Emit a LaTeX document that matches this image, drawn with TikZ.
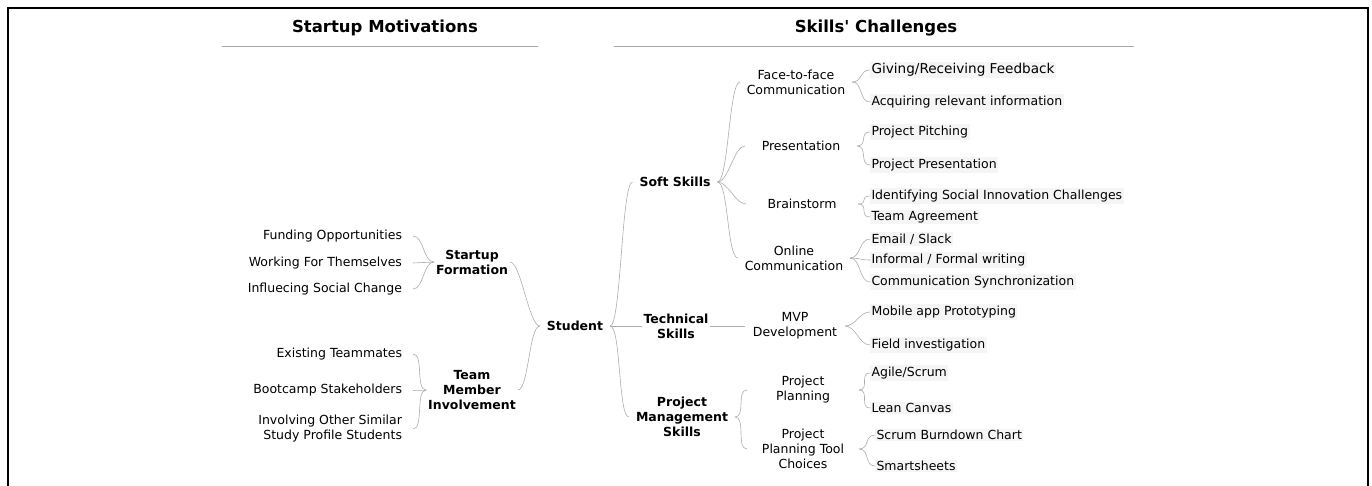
\documentclass[tikz,border=0pt]{standalone}
\usepackage{fontspec}
\setmainfont{DejaVu Sans}[Ligatures=TeXOff]
\usetikzlibrary{positioning}

\begin{document}
\begin{tikzpicture}[
  x=1pt, y=-1pt,
  heading/.style={font=\fontsize{16.5}{19}\selectfont\bfseries, inner sep=0pt},
  rule/.style={draw=gray!70, line width=0.7pt},
  topic/.style={font=\fontsize{12.5}{15}\selectfont\bfseries, align=center,
                inner sep=1pt, outer sep=6pt},
  reason/.style={font=\fontsize{12.5}{15}\selectfont, align=right, anchor=east,
                 inner sep=1pt, outer sep=10pt},
  branch/.style={font=\fontsize{12.5}{15}\selectfont, align=center,
                 minimum width=112pt, inner sep=1pt, outer sep=0pt},
  leaf/.style={font=\fontsize{12.5}{15}\selectfont, anchor=west, fill=black!4,
               inner sep=1.5pt, outer sep=0pt},
  link/.style={draw=gray!65, line width=0.6pt},
  brace/.style={link, out=0, in=180, distance=11pt}
]
  \useasboundingbox (0,0) rectangle (1372,486);
  \draw[line width=2.4pt] (8,486) -- (8,8) -- (1368,8) -- (1368,486);

  \node[heading] (motiv) at (385,28) {Startup Motivations};
  \node[heading] (chall) at (876,28) {Skills' Challenges};
  \draw[rule] (222,46) -- (538,46);
  \draw[rule] (614,46) -- (1134,46);

  % motivations
  \node[reason] (fund)  at (413,236) {Funding Opportunities};
  \node[reason] (work)  at (413,263) {Working For Themselves};
  \node[reason] (infl)  at (413,289) {Influecing Social Change};
  \node[reason] (exist) at (413,354) {Existing Teammates};
  \node[reason] (boot)  at (413,390) {Bootcamp Stakeholders};
  \node[reason] (invol) at (413,429) {Involving Other Similar\\Study Profile Students};

  \node[topic, outer sep=1pt] (form) at (472,262) {Startup\\Formation};
  \node[topic, outer sep=1pt] (team) at (472,390) {Team\\Member\\Involvement};
  \node[topic] (student) at (575,326) {Student};

  % skills
  \node[topic] (soft) at (675,182) {Soft Skills};
  \node[topic, outer sep=1pt] (tech) at (676,326) {Technical\\Skills};
  \node[topic] (pm) at (682,417) {Project\\Management\\Skills};

  \node[branch] (f2f)    at (796,82)  {Face-to-face\\Communication};
  \node[branch] (pres)   at (801,146) {Presentation};
  \node[branch] (brain)  at (802,204) {Brainstorm};
  \node[branch] (online) at (794,258) {Online\\Communication};
  \node[branch, minimum width=100pt] (mvp) at (795,326) {MVP\\Development};
  \node[branch] (plan)   at (803,390) {Project\\Planning};
  \node[branch] (tools)  at (803,449) {Project\\Planning Tool\\Choices};

  \node[leaf, font=\fontsize{13.6}{16}\selectfont] (feed) at (870,70) {Giving/Receiving Feedback};
  \node[leaf] (acq)    at (870,102) {Acquiring relevant information};
  \node[leaf] (pitch)  at (870,132) {Project Pitching};
  \node[leaf] (ppres)  at (870,165) {Project Presentation};
  \node[leaf] (ident)  at (870,196) {Identifying Social Innovation Challenges};
  \node[leaf] (agree)  at (870,217) {Team Agreement};
  \node[leaf] (email)  at (870,239) {Email / Slack};
  \node[leaf] (writ)   at (870,260) {Informal / Formal writing};
  \node[leaf] (sync)   at (870,282) {Communication Synchronization};
  \node[leaf] (mobile) at (870,312) {Mobile app Prototyping};
  \node[leaf] (field)  at (870,345) {Field investigation};
  \node[leaf] (agile)  at (870,373) {Agile/Scrum};
  \node[leaf] (lean)   at (870,408) {Lean Canvas};
  \node[leaf] (burn)   at (875,435) {Scrum Burndown Chart};
  \node[leaf] (smart)  at (875,466) {Smartsheets};

  \foreach \a/\b in {fund/form, work/form, infl/form, exist/team, boot/team, invol/team,
                     form/student, team/student, student/soft, student/pm,
                     soft/f2f, soft/pres, soft/brain, soft/online, pm/plan, pm/tools,
                     f2f/feed, f2f/acq, pres/pitch, pres/ppres, brain/ident, brain/agree,
                     online/email, online/writ, online/sync, mvp/mobile, mvp/field,
                     plan/agile, plan/lean, tools/burn, tools/smart}
    \draw[brace] (\a.east) to (\b.west);
  \draw[link] (student.east) -- (tech.west);
  \draw[link] (tech.east) -- (mvp.west);
\end{tikzpicture}
\end{document}
